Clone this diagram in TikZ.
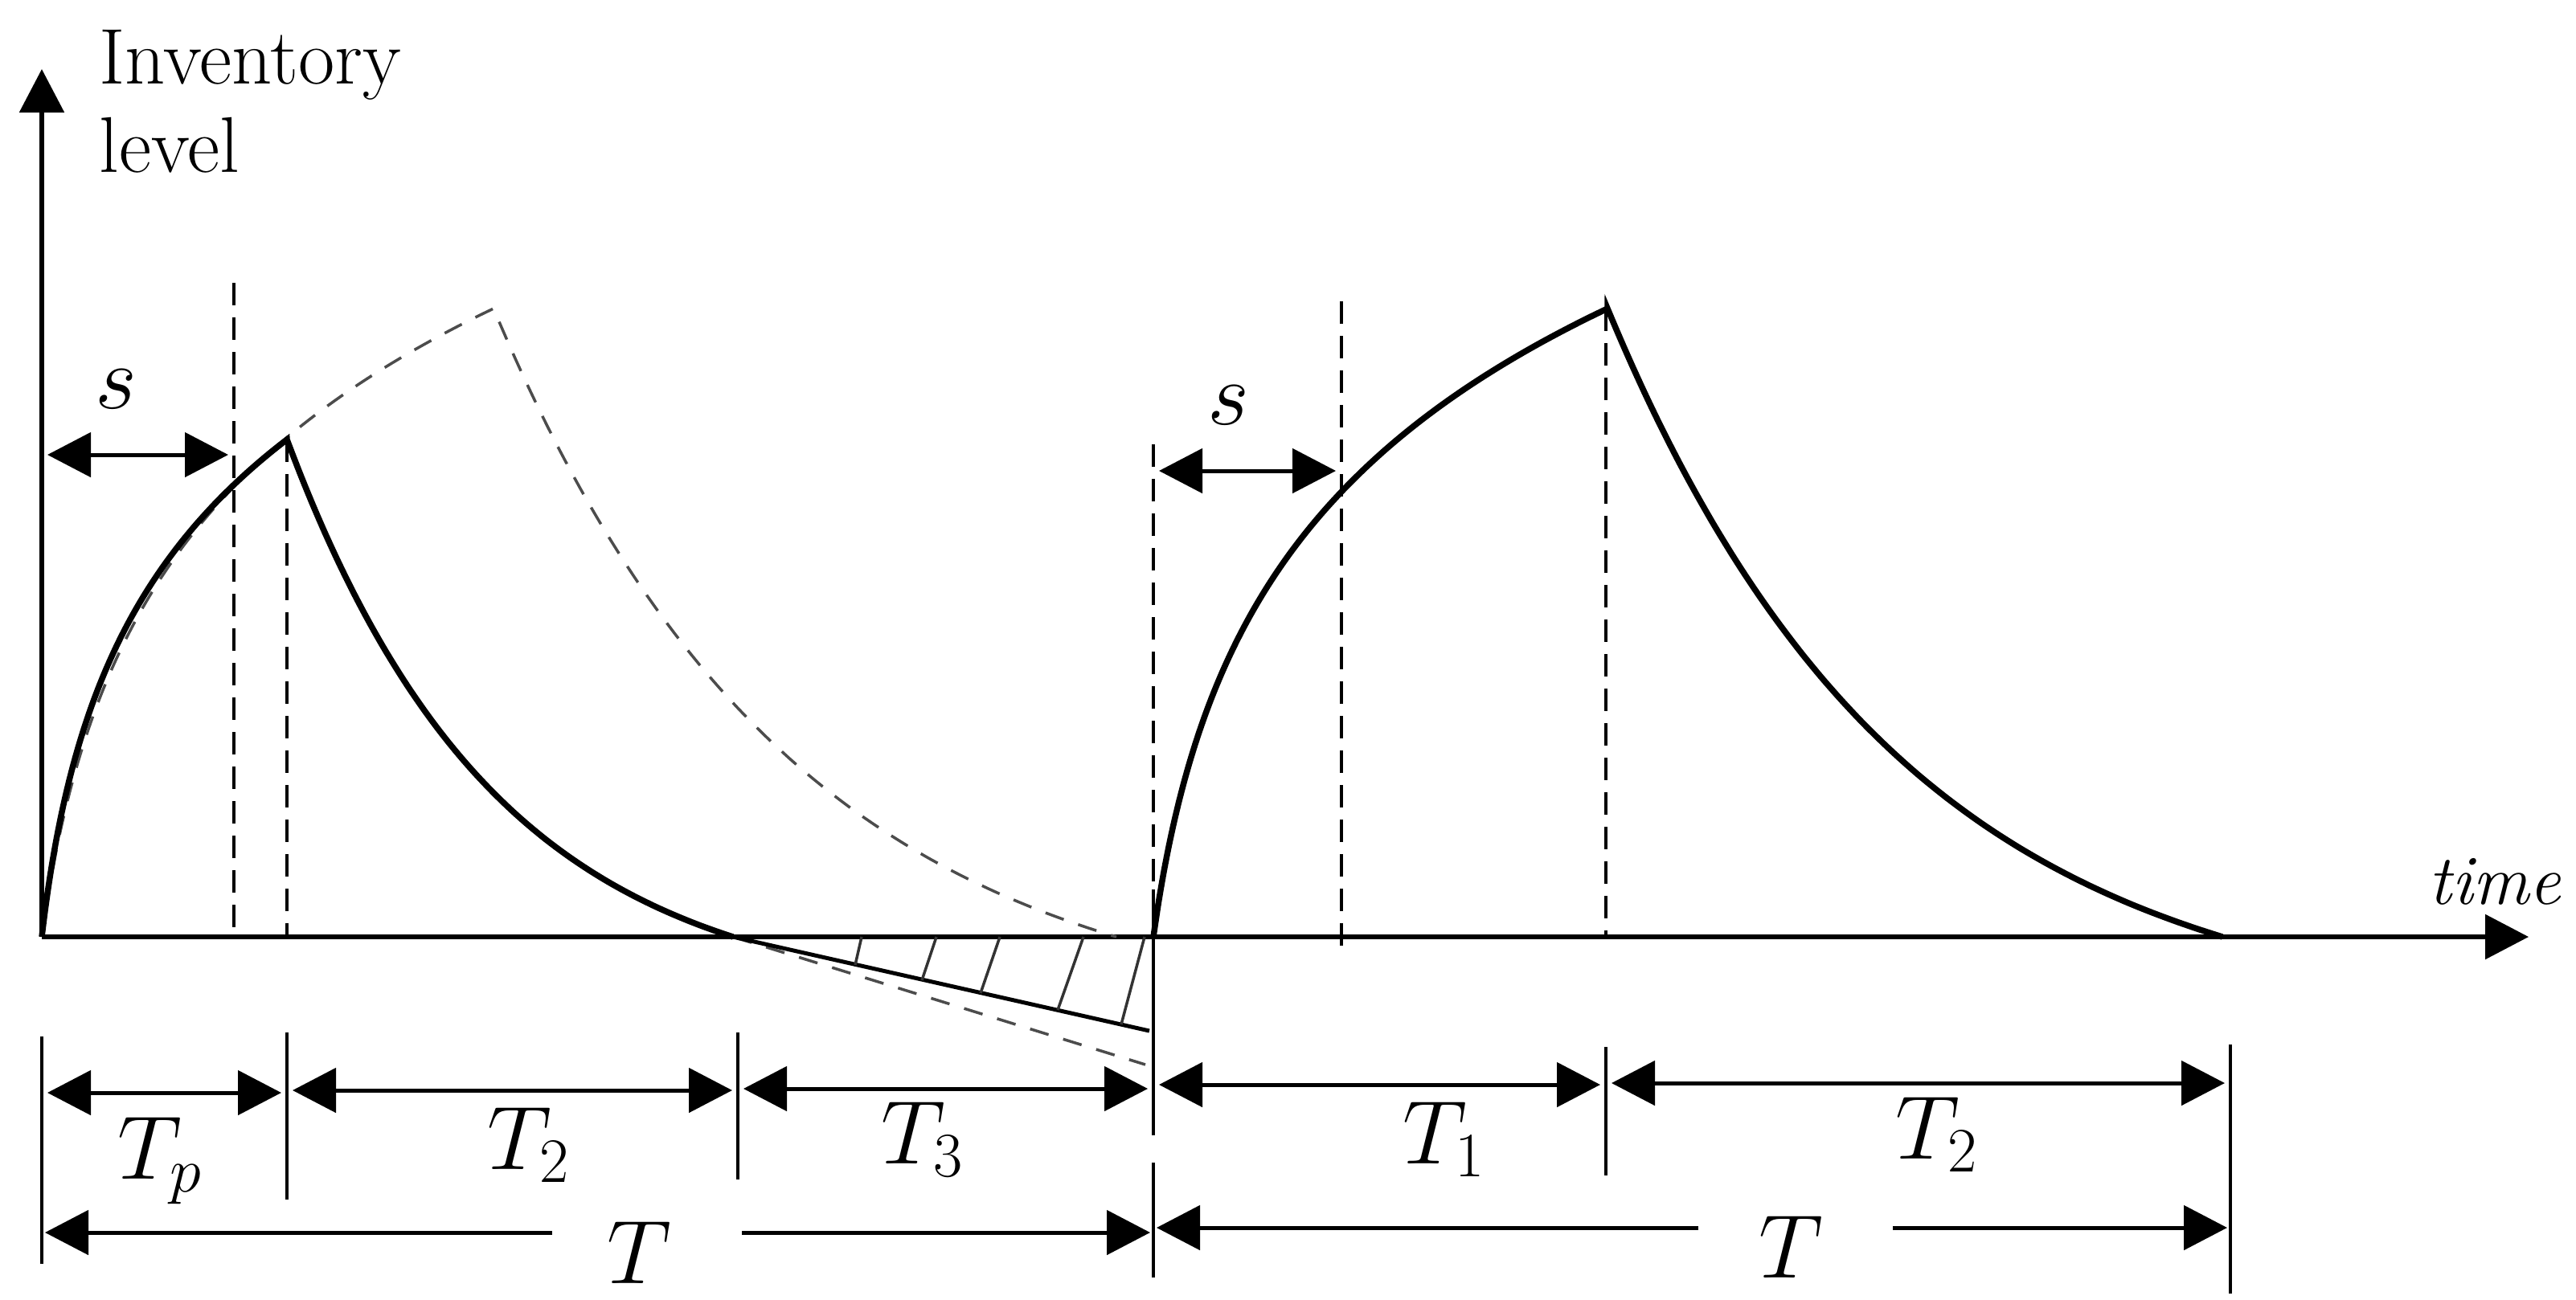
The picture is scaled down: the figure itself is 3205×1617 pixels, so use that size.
\RequirePackage{fix-cm}
\documentclass[tikz,border=0pt]{standalone}
\usetikzlibrary{arrows.meta}
\begin{document}
\begin{tikzpicture}[x=0.1mm,y=-0.1mm,
  bigtri/.tip={Triangle[length=5.4mm,width=5.5mm]},
  axisline/.style={line width=0.55mm,-bigtri},
  mcurve/.style={line width=0.75mm,line join=miter},
  normalcurve/.style={line width=0.35mm,black!70,dash pattern=on 2.4mm off 1.9mm},
  guide/.style={line width=0.45mm,dash pattern=on 2.8mm off 1.5mm},
  tickline/.style={line width=0.45mm},
  dimline/.style={line width=0.5mm,bigtri-bigtri,shorten <=0.7mm,shorten >=0.7mm},
  halfdim/.style={line width=0.5mm,-bigtri,shorten >=0.4mm},
  shortline/.style={line width=0.5mm},
  hatch/.style={line width=0.35mm,black!80},
  lab/.style={font=\fontsize{32}{38}\selectfont,inner sep=0pt,anchor=base},
  axlab/.style={font=\fontsize{28}{31}\selectfont,inner sep=0pt,anchor=base west}]
\useasboundingbox (0,0) rectangle (3205,1617);

% axes
\coordinate (O) at (52,1166);
\coordinate (Ytop) at (52,86);
\coordinate (Xend) at (3146,1166);
\draw[axisline] (O) -- (Ytop);
\draw[axisline] (O) -- (Xend);
\node[axlab] (inv) at (123,104) {Inventory};
\node[axlab] (lev) at (123,214) {level};
\node[font=\fontsize{25}{30}\selectfont\itshape,inner sep=0pt,anchor=base west] (time) at (3021,1125) {time};

% normal (dashed) cycle
\draw[normalcurve]
  plot[variable=\t,domain=0:562,samples=90,smooth] ({52+\t},{1166-782*ln(1+\t/40)/ln(1+562/40)})
  -- plot[variable=\t,domain=0:775,samples=70,smooth] ({614+\t},{1166-782*(exp(-\t/375)-exp(-775/375))/(1-exp(-775/375))});
\coordinate (S0) at (912,1166);
\coordinate (S1) at (1430,1283);
\coordinate (S2) at (1425,1325);
\draw[normalcurve] (S0) -- (S2);

% first (disrupted) cycle
\draw[mcurve]
  plot[variable=\t,domain=0:305,samples=90,smooth] ({52+\t},{1166-619*ln(1+\t/30)/ln(1+305/30)})
  -- plot[variable=\t,domain=0:555,samples=70,smooth] ({357+\t},{1166-619*(exp(-\t/262)-exp(-555/262))/(1-exp(-555/262))});
\draw[shortline] (S0) -- (S1);
% hatching of shortage
\foreach \xb/\yb/\xt in {1064/1201/1072, 1147/1220/1165, 1220/1236/1244, 1316/1257/1348, 1395/1275/1424}
  \draw[hatch] (\xb,\yb) -- (\xt,1166);

% second cycle
\draw[mcurve]
  plot[variable=\t,domain=0:565,samples=90,smooth] ({1435+\t},{1166-782*ln(1+\t/40)/ln(1+565/40)})
  -- plot[variable=\t,domain=0:765,samples=70,smooth] ({2000+\t},{1166-782*(exp(-\t/370)-exp(-765/370))/(1-exp(-765/370))});

% vertical guides
\coordinate (g1a) at (291,352);  \coordinate (g1b) at (291,1166);
\coordinate (g2a) at (357,547);  \coordinate (g2b) at (357,1166);
\coordinate (g3a) at (1435,553); \coordinate (g3b) at (1435,1107);
\coordinate (g4a) at (1669,375); \coordinate (g4b) at (1669,1180);
\coordinate (g5a) at (1998,384); \coordinate (g5b) at (1998,1166);
\draw[guide] (g1a) -- (g1b);
\draw[guide] (g2a) -- (g2b);
\draw[guide] (g3a) -- (g3b);
\draw[guide] (g4a) -- (g4b);
\draw[guide] (g5a) -- (g5b);

% s arrows
\coordinate (s1a) at (52,566);   \coordinate (s1b) at (291,566);
\coordinate (s2a) at (1435,586); \coordinate (s2b) at (1669,586);
\draw[dimline] (s1a) -- (s1b);
\draw[dimline] (s2a) -- (s2b);
\node[lab] (sl1) at (144,508) {$s$};
\node[lab] (sl2) at (1528,528) {$s$};

% ticks
\draw[tickline] (52,1290) -- (52,1573);
\draw[tickline] (357,1285) -- (357,1493);
\draw[tickline] (918,1285) -- (918,1468);
\draw[tickline] (1435,1107) -- (1435,1413);
\draw[tickline] (1435,1447) -- (1435,1590);
\draw[tickline] (1998,1303) -- (1998,1463);
\draw[tickline] (2775,1300) -- (2775,1610);

% first row of dimensions
\coordinate (r0) at (52,1360);   \coordinate (r1) at (357,1360);
\coordinate (r1b) at (357,1357); \coordinate (r2) at (918,1357);
\coordinate (r2b) at (918,1355); \coordinate (r3) at (1435,1355);
\coordinate (r3b) at (1435,1350);\coordinate (r4) at (1998,1350);
\coordinate (r4b) at (1998,1348);\coordinate (r5) at (2775,1348);
\draw[dimline] (r0) -- (r1);
\draw[dimline] (r1b) -- (r2);
\draw[dimline] (r2b) -- (r3);
\draw[dimline] (r3b) -- (r4);
\draw[dimline] (r4b) -- (r5);
\node[lab] (Tp) at (199,1467) {$T_p$};
\node[lab] (T2a) at (658,1455) {$T_2$};
\node[lab] (T3) at (1148,1448) {$T_3$};
\node[lab] (T1) at (1797,1448) {$T_1$};
\node[lab] (T2b) at (2410,1442) {$T_2$};

% second row of dimensions
\node[lab] (TL) at (795,1597) {$T$};
\node[lab] (TR) at (2228,1590) {$T$};
\coordinate (q0) at (52,1534);   \coordinate (qg1) at (687,1534);
\coordinate (qg2) at (923,1534); \coordinate (q1) at (1435,1534);
\coordinate (p0) at (1435,1528); \coordinate (pg1) at (2113,1528);
\coordinate (pg2) at (2355,1528);\coordinate (p1) at (2775,1528);
\draw[halfdim] (qg1) -- (q0);
\draw[halfdim] (qg2) -- (q1);
\draw[halfdim] (pg1) -- (p0);
\draw[halfdim] (pg2) -- (p1);
\end{tikzpicture}
\end{document}
